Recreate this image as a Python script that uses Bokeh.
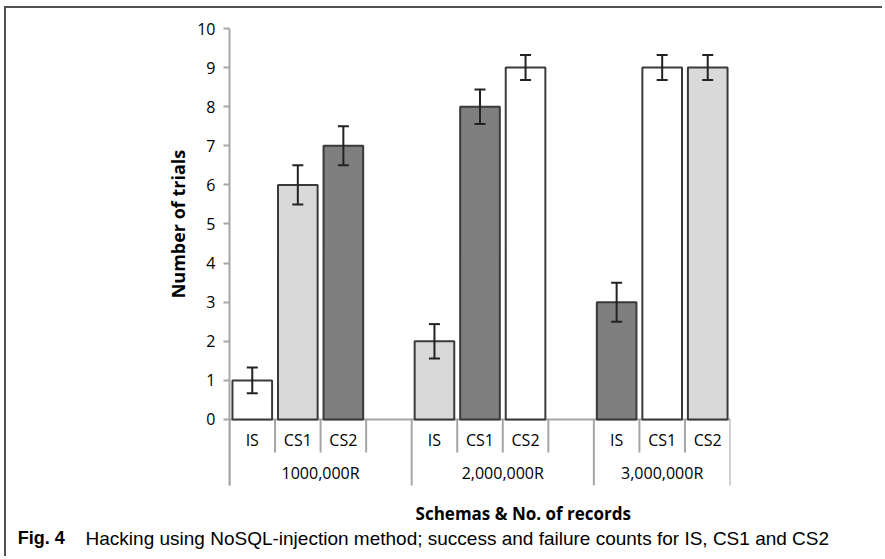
import math
from bokeh.plotting import figure
from bokeh.models import FactorRange, ColumnDataSource, Whisker, TeeHead, FixedTicker, LinearAxis
from bokeh.core.properties import value
from bokeh.embed import file_html
from bokeh.resources import INLINE

# ---------------- data ----------------
groups = ["1000,000R", "2,000,000R", "3,000,000R"]
schemas = ["IS", "CS1", "CS2"]
gap_after = [True, True, False]          # blank slot after the group
is_vals = [1, 2, 3]
cs1_vals = [6, 8, 9]
cs2_vals = [7, 9, 9]
is_err = [0.33, 0.44, 0.5]
cs1_err = [0.5, 0.44, 0.32]
cs2_err = [0.5, 0.32, 0.32]
y_ticks = [0, 1, 2, 3, 4, 5, 6, 7, 8, 9, 10]
y_title = "Number of trials"
x_title = "Schemas & No. of records"
fig_label = "Fig. 4"
caption = "Hacking using NoSQL-injection method; success and failure counts for IS, CS1 and CS2"

# ---------------- styles ----------------
WHITE, LIGHT, DARK = "#ffffff", "#d9d9d9", "#7f7f7f"
group_fills = [[WHITE, LIGHT, DARK], [LIGHT, DARK, WHITE], [DARK, WHITE, LIGHT]]
GRID = "#a6a6a6"
FONT = "Open Sans"
CAP_FONT = "Liberation Sans"

# ---------------- factors ----------------
factors = []
for g, gap in zip(groups, gap_after):
    for s in schemas:
        factors.append((g, s))
    if gap:
        factors.append((g, ""))

vals = [is_vals, cs1_vals, cs2_vals]
errs = [is_err, cs1_err, cs2_err]
bx, btop, bfill, lo, hi = [], [], [], [], []
for gi, g in enumerate(groups):
    for si, s in enumerate(schemas):
        v = vals[si][gi]
        e = errs[si][gi]
        bx.append((g, s))
        btop.append(v)
        bfill.append(group_fills[gi][si])
        lo.append(v - e)
        hi.append(v + e)
src = ColumnDataSource(dict(x=bx, top=btop, fill=bfill, lower=lo, upper=hi))

Y_MIN = -3.555
AXIS_LOW = -1.69
SHORT_LOW = -0.845

p = figure(width=878, height=550, output_backend="svg", toolbar_location=None,
           x_range=FactorRange(*factors, group_padding=0, factor_padding=0,
                               subgroup_padding=0, range_padding=0),
           y_range=(Y_MIN, 10), x_axis_location=None, y_axis_location=None,
           min_border_left=223, min_border_right=154, min_border_top=20,
           min_border_bottom=0, outline_line_color=None)
p.styles = {"margin-left": "4px", "margin-top": "6px",
            "border-left": "2px solid #505050", "border-top": "2px solid #505050"}
p.xgrid.visible = False
p.ygrid.visible = False

yaxis = LinearAxis(ticker=FixedTicker(ticks=y_ticks), bounds=(AXIS_LOW, 10),
                   axis_line_color=GRID, axis_line_width=2,
                   major_tick_line_color=GRID, major_tick_line_width=2,
                   major_tick_out=6, major_tick_in=0, minor_tick_line_color=None,
                   major_label_standoff=8, major_label_text_font=FONT,
                   major_label_text_font_size="16px", major_label_text_color="#000000")
p.add_layout(yaxis, "left")

# category axis lines
n = len(factors)
p.segment(x0=[0], y0=[0], x1=[n], y1=[0], line_color=GRID, line_width=2)
long_b, short_b, gx = [], [], []
start = 0
for g, gap in zip(groups, gap_after):
    size = len(schemas) + (1 if gap else 0)
    long_b.append(start)
    short_b.extend(range(start + 1, start + size))
    gx.append(start + size / 2)
    start += size
long_b.append(start)
p.segment(x0=short_b, y0=[0] * len(short_b), x1=short_b, y1=[SHORT_LOW] * len(short_b),
          line_color=GRID, line_width=2)
p.segment(x0=long_b, y0=[0] * len(long_b), x1=long_b, y1=[AXIS_LOW] * len(long_b),
          line_color=GRID, line_width=2)

# bars
p.vbar(x="x", top="top", bottom=0, width=0.87, source=src, fill_color="fill",
       line_color="#3a3a3a", line_width=2)
wh = Whisker(base="x", lower="lower", upper="upper", source=src, level="overlay",
             line_color="#222222", line_width=2,
             upper_head=TeeHead(size=11, line_color="#222222", line_width=2),
             lower_head=TeeHead(size=11, line_color="#222222", line_width=2))
p.add_layout(wh)

# category labels
p.text(x=bx, y=[SHORT_LOW / 2 - 0.1] * len(bx), text=[s for (_, s) in bx],
       text_font=value(FONT), text_font_size="16px", text_align="center",
       text_baseline="middle", text_color="#000000")
p.text(x=gx, y=[-1.38] * len(gx), text=groups, text_font=value(FONT), text_font_size="16px",
       text_align="center", text_baseline="middle", text_color="#000000")
p.text(x=[6.45], y=[-2.4], text=[x_title], text_font=value(FONT), text_font_size="17px",
       text_font_style="bold", text_align="center", text_baseline="middle",
       text_color="#000000")

# y axis title (centred on the 0-10 scale)
p.text(x=[-1.12], y=[5], text=[y_title], angle=math.pi / 2, text_font=value(FONT),
       text_font_size="18px", text_font_style="bold", text_align="center",
       text_baseline="middle", text_color="#000000", level="overlay")

# caption
p.text(x=[-4.65], y=[-3.04], text=[fig_label], text_font=value(CAP_FONT),
       text_font_size="18px", text_font_style="bold", text_baseline="middle",
       text_align="left", text_color="#000000", level="overlay")
p.text(x=[-3.16], y=[-3.04], text=[caption], text_font=value(CAP_FONT),
       text_font_size="19px", text_baseline="middle", text_align="left",
       text_color="#000000", level="overlay")

open("out.html", "w").write(file_html(p, INLINE))
